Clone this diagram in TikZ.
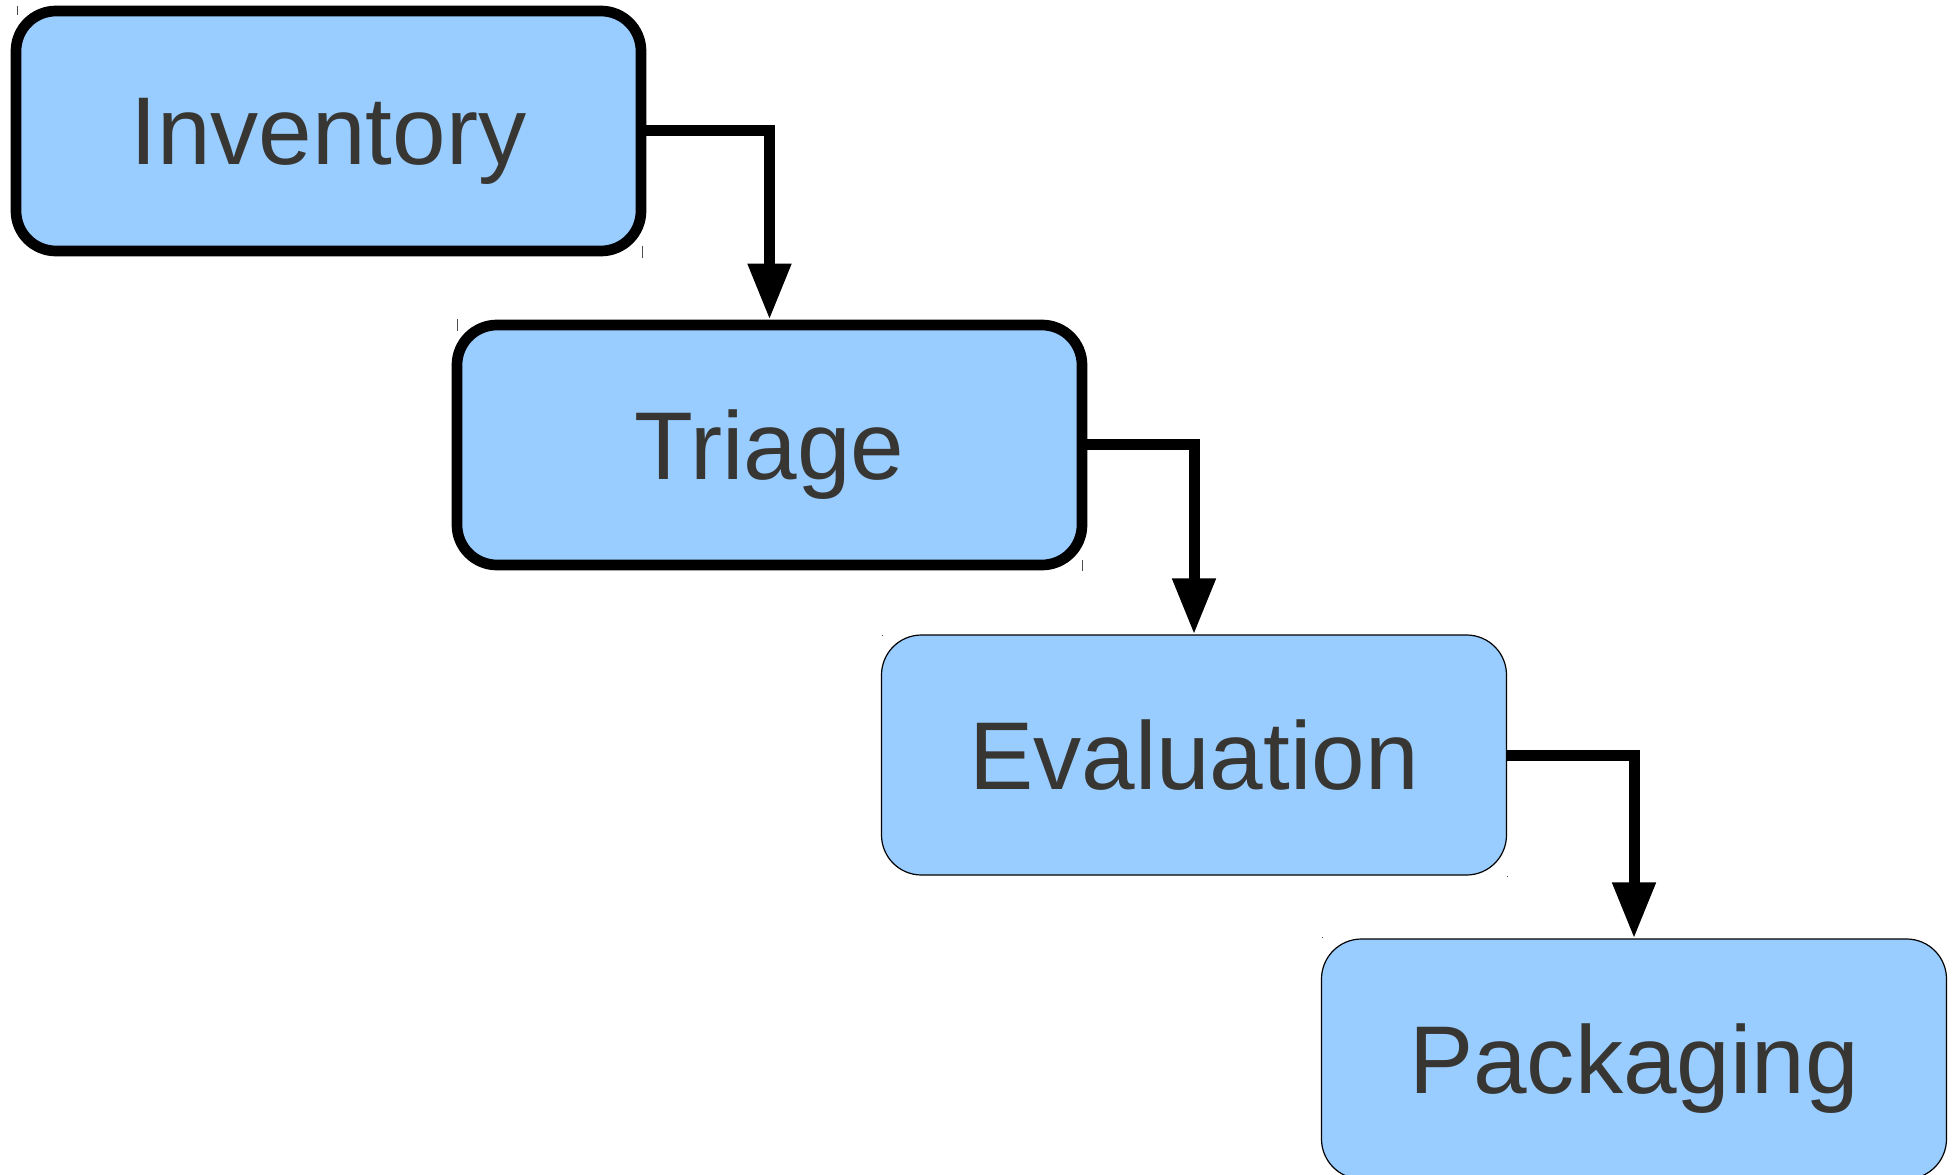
\documentclass[tikz,border=0pt]{standalone}
\usepackage{fontspec}
\setmainfont{Liberation Sans}
\usetikzlibrary{arrows.meta}
\definecolor{boxblue}{RGB}{153,204,255}
\definecolor{txtgray}{RGB}{56,54,51}
\begin{document}
\begin{tikzpicture}[
        stage/.style={rectangle,rounded corners=0.4cm,fill=boxblue,draw=black,text=txtgray,minimum width=6.25cm,minimum height=2.4cm,inner sep=0pt,text depth=0pt,font=\fontsize{27.4}{32}\selectfont},
        heavy/.style={line width=0.107cm},
        light/.style={line width=0.012cm},
        flow/.style={line width=0.11cm,-{Triangle[width=0.41cm,length=0.56cm]}},
        tick/.style={line width=0.01cm,black!70}]
        \useasboundingbox (0,0) rectangle (19.59,-11.75);
        \node[stage,heavy] (inv) at (3.285,-1.31) {Inventory};
        \node[stage,heavy] (tri) at (7.695,-4.45) {Triage};
        \node[stage,light] (eva) at (11.94,-7.55) {Evaluation};
        \node[stage,light] (pack) at (16.34,-10.59) {Packaging};
        \draw[flow] (inv.east) -| (tri.north);
        \draw[flow] (tri.east) -| (eva.north);
        \draw[flow] (eva.east) -| (pack.north);
        \draw[tick] (0.17,-0.06) -- (0.17,-0.15);
        \draw[tick] (6.42,-2.46) -- (6.42,-2.58);
        \draw[tick] (4.57,-3.19) -- (4.57,-3.31);
        \draw[tick] (10.82,-5.60) -- (10.82,-5.71);
        \draw[tick] (8.82,-6.35) -- (8.82,-6.36);
        \draw[tick] (15.07,-8.76) -- (15.07,-8.77);
        \draw[tick] (13.22,-9.37) -- (13.22,-9.38);
\end{tikzpicture}
\end{document}
